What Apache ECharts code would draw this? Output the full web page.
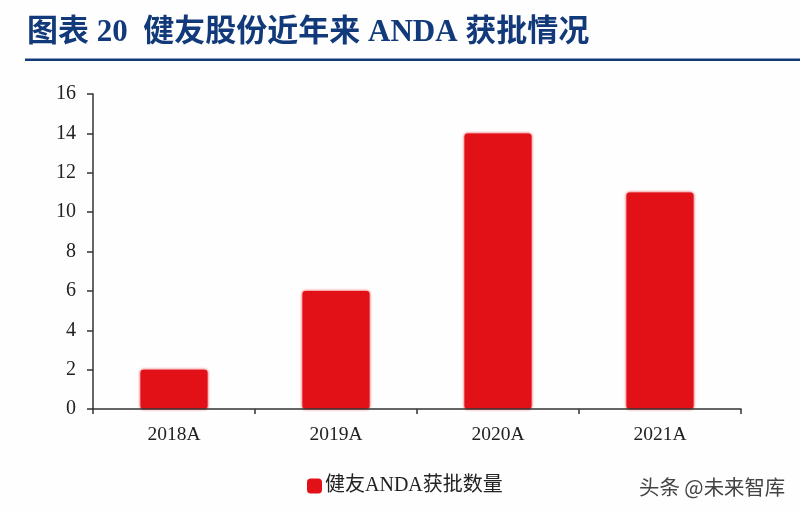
<!DOCTYPE html>
<html><head><meta charset="utf-8">
<style>html,body{margin:0;padding:0;background:#fff}#c{width:800px;height:513px}</style>
<script src="https://cdn.jsdelivr.net/npm/echarts@6/dist/echarts.min.js"></script>
</head><body><div id="c"></div>
<script>
const categories = ['2018A','2019A','2020A','2021A'];
const approvals = [2,6,14,11];
const yTicks = {min:0,max:16,interval:2};
const seriesName = '健友ANDA获批数量';
const titleText = '图表 20  健友股份近年来 ANDA 获批情况';
const watermark = '头条 @未来智库';
const serif = '"Liberation Serif","Noto Sans CJK SC"';
const chart = echarts.init(document.getElementById('c'),null,{renderer:'canvas'});
chart.setOption({
  animation:false,
  backgroundColor:'#fefefe',
  title:{text:titleText,left:22,top:12,textStyle:{fontFamily:serif,fontSize:31,fontWeight:'bold',color:'#123a7a'}},
  legend:{show:true,left:302,top:471,itemWidth:15,itemHeight:15,itemGap:4,
    icon:'roundRect',
    textStyle:{fontFamily:serif,fontSize:20,color:'#222',padding:[0,0,0,-2]},data:[seriesName]},
  grid:{left:93,right:59,top:94,bottom:104,containLabel:false},
  xAxis:{type:'category',data:categories,z:5,
    axisLine:{lineStyle:{color:'#333',width:1.5}},
    axisTick:{show:true,length:5,inside:false,alignWithLabel:false,lineStyle:{color:'#333',width:1.5}},
    axisLabel:{fontFamily:serif,fontSize:19.5,color:'#222',margin:16}},
  yAxis:{type:'value',min:yTicks.min,max:yTicks.max,interval:yTicks.interval,
    splitLine:{show:false},
    axisLine:{show:true,lineStyle:{color:'#333',width:1.5}},
    axisTick:{show:true,length:6,lineStyle:{color:'#333',width:1.5}},
    axisLabel:{fontFamily:serif,fontSize:20,color:'#222',margin:17}},
  series:[{name:seriesName,type:'bar',data:approvals,barWidth:67,
    itemStyle:{color:'#e21017',borderRadius:[3,3,3,3],shadowColor:'#e21017',shadowBlur:3}}],
  graphic:[
    {type:'rect',left:25,top:58.5,shape:{width:775,height:2.5},style:{fill:'#123a7a'},silent:true},
    {type:'text',left:639,top:477,style:{text:watermark,fontFamily:'"Noto Sans CJK SC"',fontSize:20.4,fill:'#444'},silent:true}
  ]
});
</script></body></html>
